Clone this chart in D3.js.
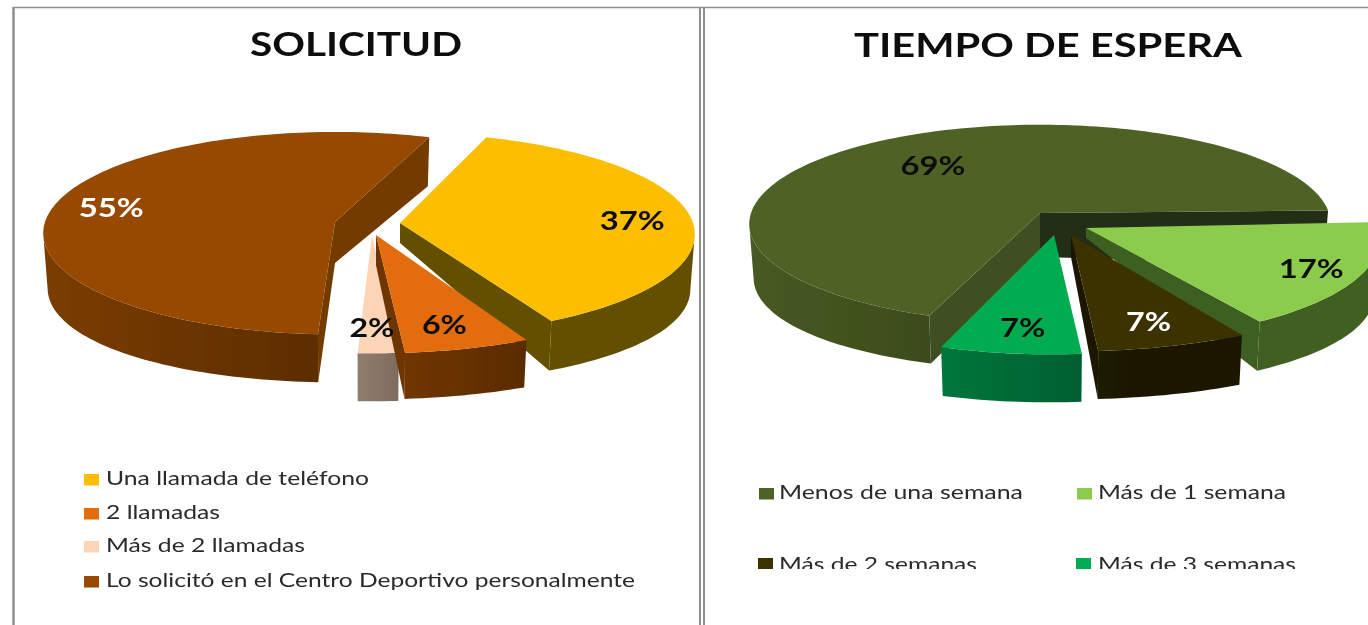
<!DOCTYPE html>
<html><head><meta charset="utf-8">
<script src="https://cdn.jsdelivr.net/npm/d3@7"></script>
<style>html,body{margin:0;padding:0;background:#fff;overflow:hidden}svg{display:block}</style>
</head><body><svg id="c" width="1368" height="625"></svg>
<script>
// ---- data
const solicitudTitle = "SOLICITUD";
const solicitudCategories = ["Una llamada de teléfono","2 llamadas","Más de 2 llamadas","Lo solicitó en el Centro Deportivo personalmente"];
const solicitudValues = [37,6,2,55];
const solicitudTop = ["#fbbf00","#e36c0a","#fbd5b5","#974806"];

const esperaTitle = "TIEMPO DE ESPERA";
const esperaCategories = ["Más de 1 semana","Más de 2 semanas","Más de 3 semanas","Menos de una semana"];
const esperaValues = [17,7,7,69];
const esperaTop = ["#8ccc4e","#3a3200","#00ac50","#4f6228"];

// ---- drawing styles and layout (not data)
const solicitudStyle = [
 {x:400,y:223,rx:293,ry:100,turn:-1,adx:0,ady:0,apex:20,depth:48,radial:["#645000","#645000"],rim:["#645000","#645000"],lab:.79,ly:5,lx:3,lc:"#111",order:1},
 {x:374,y:241,rx:305,ry:100,turn:0,adx:2,ady:-6,apex:30,depth:46,radial:["#6e3500","#6e3500"],rim:["#703505","#5a2c00"],lab:.78,ly:3,lx:-1,lc:"#111",order:3},
 {x:369,y:241,rx:292,ry:100,turn:0,adx:3,ady:-6,apex:20,depth:48,radial:["#8d7c6c","#8d7c6c"],rim:["#8f7e6e","#7d6b5c"],lab:.78,ly:3,lx:-4,lc:"#111",order:2},
 {x:335,y:222,rx:290,ry:100,turn:1,adx:0,ady:0,apex:41,depth:48,radial:["#733a05","#733a05"],rim:["#7a3d05","#5c2d00"],lab:.8,ly:3,lx:-1,lc:"#fff",order:0}
];
const esperaStyle = [
 {x:1086,y:229,rx:291,ry:100,turn:-2,adx:0,ady:-1,apex:10,depth:47,radial:["#3c5f20","#3c5f20"],rim:["#3f6121","#3f6121"],lab:.83,ly:2,lx:0,lc:"#111",order:1},
 {x:1070,y:239,rx:313,ry:100,turn:1,adx:1,ady:-4,apex:22,depth:48,radial:["#1a1600","#1a1600"],rim:["#1e1a00","#1a1600"],lab:.78,ly:3,lx:0,lc:"#fff",order:2},
 {x:1050,y:242,rx:291,ry:100,turn:0,adx:4,ady:-7,apex:20,depth:48,radial:["#006f38","#006f38"],rim:["#00763b","#005f30"],lab:.78,ly:2,lx:3,lc:"#111",order:3},
 {x:1040,y:213,rx:289,ry:98,turn:0.5,adx:0,ady:0,apex:44,depth:47,radial:["#3f5020","#232d12"],rim:["#475a22","#3c4b1c"],lab:.66,ly:4,lx:-2,lc:"#111",order:0}
];
const persp = 0.11, bottomScale = 0.985, sideDepth = 0.15;
const svg = d3.select("#c");
const defs = svg.append("defs");
const soft = defs.append("filter").attr("id","soft").attr("x","-5%").attr("y","-5%").attr("width","110%").attr("height","110%");
soft.append("feGaussianBlur").attr("stdDeviation",0.45);
const clip = defs.append("clipPath").attr("id","legendClip");
clip.append("rect").attr("x",0).attr("y",0).attr("width",1368).attr("height",569);

const root = svg.append("g").attr("filter","url(#soft)");
const line = d3.line();

function topPt(s,th,r=1){const u=r*Math.sin(th),v=r*Math.cos(th),w=1+persp*v;
  return [s.x+s.rx*u/w, s.y-s.ry*v/w];}
function botPt(s,th){const u=Math.sin(th),v=Math.cos(th),w=1+persp*v;
  return [s.x+s.rx*u/w*bottomScale, s.y-s.ry*v/w+s.depth*(1+sideDepth*u*u)];}

function drawPie(id,values,colors,styles,startDeg){
  const arcs = d3.pie().sort(null).value(d=>d)
     .startAngle(startDeg*Math.PI/180).endAngle((startDeg+360)*Math.PI/180)(values);
  const g = root.append("g");
  const order = d3.range(arcs.length).sort((a,b)=>styles[a].order-styles[b].order);
  order.forEach(i=>{
    const s=styles[i], t0=arcs[i].startAngle+s.turn*Math.PI/180, t1=arcs[i].endAngle+s.turn*Math.PI/180;
    const n=Math.max(6,Math.round((t1-t0)*40));
    const ths=d3.range(n+1).map(j=>t0+(t1-t0)*j/n);
    const apex=[s.x+s.adx,s.y+s.ady], apexB=[apex[0],apex[1]+s.apex];
    const gid=`${id}-rim-${i}`;
    const lg=defs.append("linearGradient").attr("id",gid).attr("x1",0).attr("x2",1).attr("y1",0).attr("y2",0);
    lg.append("stop").attr("offset",0).attr("stop-color",s.rim[0]);
    lg.append("stop").attr("offset",1).attr("stop-color",s.rim[1]);
    // rim wall, only the part turned to the viewer (from silhouette to silhouette)
    const front=ths.filter(t=>Math.cos(t)<-persp);
    if(front.length>1){
      const pts=front.map(t=>topPt(s,t)).concat(front.slice().reverse().map(t=>botPt(s,t)));
      g.append("path").attr("d",line(pts)+"Z").attr("fill",`url(#${gid})`);
    }
    // radial walls, only those that face the viewer
    if(Math.sin(t1)>0) g.append("path").attr("d",line([apex,topPt(s,t1),botPt(s,t1),apexB])+"Z").attr("fill",s.radial[1]);
    if(Math.sin(t0)<0) g.append("path").attr("d",line([apex,topPt(s,t0),botPt(s,t0),apexB])+"Z").attr("fill",s.radial[0]);
    // top face
    const tp=[apex].concat(ths.map(t=>topPt(s,t)));
    g.append("path").attr("d",line(tp)+"Z").attr("fill",colors[i]);
  });
  // labels on top of every slice
  arcs.forEach((a,i)=>{
    const s=styles[i], mid=(a.startAngle+a.endAngle)/2+s.turn*Math.PI/180, p=topPt(s,mid,s.lab);
    g.append("text").attr("x",p[0]+s.lx).attr("y",p[1]+8+s.ly).attr("text-anchor","middle")
     .attr("font-family","Lato").attr("font-weight",700).attr("font-size",26)
     .attr("textLength",a.data<10?45:65).attr("lengthAdjust","spacingAndGlyphs")
     .attr("fill",s.lc).text(a.data+"%");
  });
}

drawPie("sol",solicitudValues,solicitudTop,solicitudStyle,20);
drawPie("esp",esperaValues,esperaTop,esperaStyle,88);

// frame
const frame = root.append("g").attr("stroke","#8f8f8f").attr("fill","none");
frame.append("line").attr("x1",13).attr("x2",1368).attr("y1",7.5).attr("y2",7.5).attr("stroke-width",1.5);
frame.append("line").attr("x1",13.5).attr("x2",13.5).attr("y1",7).attr("y2",625).attr("stroke-width",2.5);
frame.append("line").attr("x1",700).attr("x2",700).attr("y1",7).attr("y2",625).attr("stroke-width",2);
frame.append("line").attr("x1",704).attr("x2",704).attr("y1",7).attr("y2",625).attr("stroke-width",2);

// titles
function title(t,x,w,y){
  root.append("text").attr("x",x).attr("y",y).attr("font-family","Lato").attr("font-weight",700)
    .attr("font-size",32).attr("fill","#0d0d0d").attr("textLength",w).attr("lengthAdjust","spacingAndGlyphs").text(t);
}
title(solicitudTitle,250,212,56);
title(esperaTitle,854,388,57);

// legends
const legendLeft = [[84,263],[84,114],[84,199],[84,529]];
const legendLeftRows = [485,519,552,587];
function legendItem(parent,label,color,sx,tx,tw,base,sqUp=11){
  parent.append("rect").attr("x",sx).attr("y",base-sqUp).attr("width",15).attr("height",11.5).attr("fill",color);
  parent.append("text").attr("x",tx).attr("y",base).attr("font-family","Lato").attr("font-size",19)
    .attr("fill","#2a2a2a").attr("textLength",tw).attr("lengthAdjust","spacingAndGlyphs").text(label);
}
solicitudCategories.forEach((c,i)=>legendItem(root,c,solicitudTop[i],legendLeft[i][0],106,legendLeft[i][1],legendLeftRows[i]));
const lr = root.append("g").attr("clip-path","url(#legendClip)");
legendItem(lr,esperaCategories[3],esperaTop[3],759,779,244,499);
legendItem(lr,esperaCategories[0],esperaTop[0],1077,1098,188,499);
legendItem(lr,esperaCategories[1],esperaTop[1],758,779,198,571,13);
legendItem(lr,esperaCategories[2],esperaTop[2],1076,1098,198,571,13);
</script></body></html>
